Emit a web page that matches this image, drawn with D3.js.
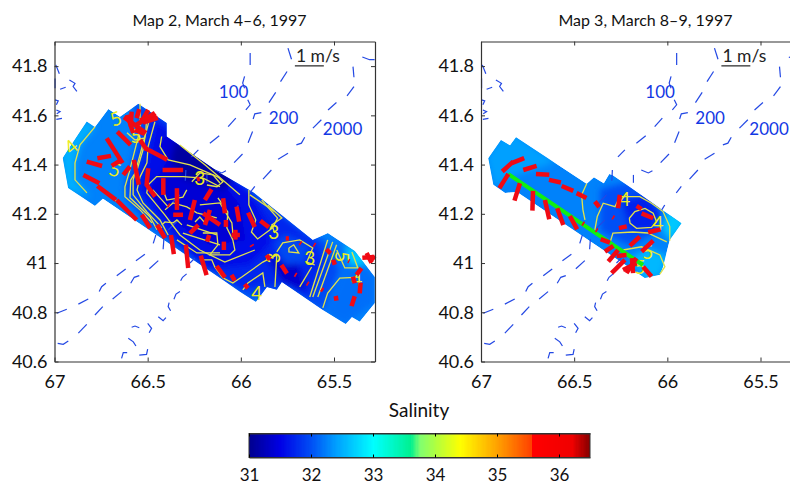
<!DOCTYPE html>
<html>
<head>
<meta charset="utf-8">
<script src="https://cdn.jsdelivr.net/npm/d3@7"></script>
<style>
    html, body { margin: 0; padding: 0; background: #fff; overflow: hidden; }
    svg text { font-family: Lato, "Open Sans", sans-serif; }
</style>
</head>
<body>
<div id="chart"></div>
<script>
const lonTicks = [67, 66.5, 66, 65.5];
const latTicks = [40.6, 40.8, 41, 41.2, 41.4, 41.6, 41.8];
const salinityTicks = [31, 32, 33, 34, 35, 36];
const salinityStops = [31, 31.5, 32, 32.4, 33, 33.6, 33.75, 34, 34.4, 35, 35.55, 35.56, 36.2, 36.5];
const salinityColors = ["#00008f", "#0000e6", "#0050f5", "#00a0ff", "#00ffff", "#00f090", "#80ff70", "#b0ff40",
    "#ffff00", "#ffa000", "#ff4000", "#ff0000", "#f00000", "#800000"];

// isobaths, same for both maps (dashes as seen on the picture)
const isobaths = [
    [[66.993, 41.805], [66.974, 41.769]],
    [[66.997, 41.75], [66.997, 41.71]],
    [[66.97, 41.706], [66.94, 41.714]],
    [[66.92, 41.744], [66.89, 41.73], [66.90, 41.717], [66.88, 41.697]],
    [[66.997, 41.663], [66.98, 41.659], [66.99, 41.643]],
    [[66.99, 41.622], [66.97, 41.615], [66.988, 41.606]],
    [[66.99, 41.584], [66.96, 41.588]],
    // 100
    [[65.95, 41.853], [65.95, 41.805]],
    [[65.98, 41.758], [65.99, 41.731], [65.98, 41.71]],
    [[65.963, 41.663], [65.95, 41.643], [65.973, 41.622]],
    [[66.027, 41.589], [66.068, 41.554]],
    [[66.116, 41.517], [66.166, 41.487]],
    [[66.228, 41.46], [66.265, 41.431]],
    [[66.295, 41.378], [66.298, 41.334]],
    // 200
    [[65.747, 41.873], [65.728, 41.828]],
    [[65.752, 41.778], [65.787, 41.737]],
    [[65.813, 41.693], [65.849, 41.652]],
    [[65.89, 41.611], [65.925, 41.606], [65.934, 41.585]],
    [[65.937, 41.534], [65.961, 41.489]],
    [[65.991, 41.443], [66.036, 41.408]],
    [[66.08, 41.375], [66.102, 41.366], [66.14, 41.378]],
    [[66.182, 41.358], [66.182, 41.326]],
    // 2000
    [[65.348, 41.837], [65.309, 41.826], [65.282, 41.826]],
    [[65.398, 41.798], [65.393, 41.755]],
    [[65.393, 41.717], [65.43, 41.679]],
    [[65.487, 41.652], [65.532, 41.622]],
    [[65.568, 41.582], [65.613, 41.548]],
    [[65.657, 41.511], [65.675, 41.487], [65.702, 41.48]],
    [[65.747, 41.446], [65.80, 41.422]],
    [[65.836, 41.378], [65.881, 41.341]],
    [[65.925, 41.311], [65.952, 41.285]],
    [[66.014, 41.236], [66.03, 41.216]],
    [[66.335, 41.175], [66.389, 41.135]],
    [[66.327, 41.277], [66.37, 41.244]],
    // lower left
    [[66.988, 40.796], [66.934, 40.812]],
    [[66.872, 40.833], [66.819, 40.854]],
    [[66.76, 40.884], [66.747, 40.904], [66.724, 40.918]],
    [[66.666, 40.948], [66.618, 40.976]],
    [[66.563, 41.009], [66.515, 41.036]],
    [[66.47, 41.08], [66.456, 41.114]],
    [[66.983, 40.674], [66.953, 40.67], [66.926, 40.683]],
    [[66.872, 40.715], [66.827, 40.751]],
    [[66.783, 40.789], [66.741, 40.823]],
    [[66.688, 40.854], [66.64, 40.884]],
    [[66.591, 40.918], [66.572, 40.942], [66.545, 40.949]],
    [[66.491, 40.977], [66.443, 41.01]],
    [[66.417, 41.056], [66.413, 41.097]],
    [[66.64, 40.613], [66.631, 40.636], [66.61, 40.636]],
    [[66.545, 40.626], [66.506, 40.629], [66.50, 40.65]],
    [[66.604, 40.694], [66.577, 40.68], [66.563, 40.663]],
    [[66.586, 40.739], [66.568, 40.744], [66.545, 40.737]],
    [[66.50, 40.755], [66.479, 40.735], [66.492, 40.717]],
    [[66.443, 40.782], [66.417, 40.766], [66.402, 40.778]],
    [[66.385, 40.839], [66.39, 40.823], [66.377, 40.806]],
    [[66.359, 40.853], [66.348, 40.874], [66.327, 40.884]],
    [[66.323, 40.928], [66.313, 40.942], [66.291, 40.956]],
    [[66.273, 41.0], [66.247, 41.02]]
];
const isobathLabels = [
    { text: "100", lon: 66.118, lat: 41.671 },
    { text: "200", lon: 65.85, lat: 41.565 },
    { text: "2000", lon: 65.56, lat: 41.52 }
];

// Map 2
const coverageMap2 = [[66.956, 41.427], [66.827, 41.575], [66.783, 41.553], [66.711, 41.626], [66.649, 41.594],
    [66.55, 41.647], [66.398, 41.569], [66.398, 41.514], [66.112, 41.366], [65.935, 41.289], [65.614, 41.094],
    [65.533, 41.122], [65.388, 41.049], [65.281, 40.943], [65.281, 40.838], [65.362, 40.761], [65.404, 40.781],
    [65.437, 40.752], [65.56, 40.809], [65.78, 40.923], [65.807, 40.891], [65.86, 40.903], [65.919, 40.842],
    [66.005, 40.883], [66.112, 40.939], [66.74, 41.261], [66.783, 41.232], [66.927, 41.305]];
const baseSalinityMap2 = 32.25;
const bandsMap2 = [
    { s: 32.5, pts: [[66.97, 41.46], [66.826, 41.582], [66.783, 41.553], [66.86, 41.48], [66.89, 41.407], [66.89, 41.338], [66.81, 41.27], [66.94, 41.297]] },
    { s: 31.95, pts: [[66.584, 41.663], [66.541, 41.541], [66.578, 41.431], [66.622, 41.31], [66.611, 41.256], [66.477, 41.143], [65.951, 40.85], [65.737, 40.891], [65.56, 40.801], [65.469, 40.972], [65.55, 41.094], [65.63, 41.114], [65.951, 41.297], [66.38, 41.582]] },
    { s: 31.75, pts: [[66.505, 41.622], [66.525, 41.46], [66.595, 41.317], [66.488, 41.188], [66.327, 41.053], [66.005, 40.891], [65.763, 40.911], [65.63, 40.85], [65.55, 41.013], [65.603, 41.094], [65.951, 41.289], [66.38, 41.561]] },
    { s: 31.55, pts: [[66.461, 41.574], [66.504, 41.407], [66.541, 41.297], [66.408, 41.155], [66.193, 40.972], [65.951, 40.992], [65.845, 41.074], [65.845, 41.155], [65.951, 41.297], [66.38, 41.541]] },
    { s: 31.4, pts: [[66.38, 41.541], [66.434, 41.473], [66.39, 41.419], [66.488, 41.297], [66.408, 41.196], [66.166, 41.074], [65.978, 41.094], [66.005, 41.236], [66.14, 41.358]] },
    { s: 31.1, pts: [[66.35, 41.50], [66.38, 41.419], [66.30, 41.338], [66.085, 41.297], [66.03, 41.358], [66.22, 41.44]] },
    { s: 31.35, pts: [[65.871, 41.033], [65.78, 40.923], [65.65, 40.882], [65.684, 40.992], [65.737, 41.004]] },
    { s: 31.95, pts: [[65.818, 41.074], [65.763, 41.114], [65.63, 41.074], [65.657, 41.004], [65.763, 40.992]] },
    { s: 32.15, pts: [[65.523, 41.094], [65.389, 41.053], [65.281, 40.943], [65.281, 40.838], [65.442, 40.748], [65.55, 40.801], [65.469, 40.952]] },
    { s: 32.7, pts: [[65.442, 41.074], [65.362, 41.045], [65.32, 40.992], [65.415, 40.992]] }
];
const contoursMap2 = [
    [[66.783, 41.553], [66.863, 41.48], [66.89, 41.407], [66.89, 41.338], [66.826, 41.285]],
    [[66.541, 41.647], [66.541, 41.541], [66.578, 41.431], [66.6, 41.366], [66.622, 41.31], [66.622, 41.269], [66.541, 41.216], [66.477, 41.163]],
    [[66.505, 41.622], [66.509, 41.541], [66.525, 41.46], [66.557, 41.378], [66.591, 41.338], [66.595, 41.265], [66.488, 41.188], [66.45, 41.135]],
    [[66.488, 41.59], [66.541, 41.44], [66.578, 41.338], [66.578, 41.277], [66.504, 41.208], [66.424, 41.143]],
    [[66.461, 41.574], [66.498, 41.472], [66.504, 41.407], [66.541, 41.35], [66.557, 41.297], [66.525, 41.244], [66.434, 41.175], [66.39, 41.114]],
    [[66.425, 41.514], [66.434, 41.473], [66.39, 41.419], [66.273, 41.399], [66.112, 41.346]],
    [[66.327, 41.48], [66.193, 41.399], [66.005, 41.277]],
    [[65.951, 41.277], [65.871, 41.236], [65.818, 41.208]],
    [[66.112, 41.31], [66.202, 41.345], [66.31, 41.351], [66.452, 41.351], [66.497, 41.318], [66.505, 41.285], [66.408, 41.196], [66.327, 41.114], [66.22, 41.053], [66.086, 41.004], [65.925, 41.053]],
    [[65.957, 41.297], [65.957, 41.236], [65.92, 41.175], [65.943, 41.126], [65.91, 41.098], [65.829, 41.143], [65.803, 41.183], [65.888, 41.256]],
    [[66.22, 41.013], [66.156, 41.013], [66.14, 40.984], [66.097, 40.94], [66.043, 40.919], [65.995, 40.943], [65.882, 41.004], [65.807, 41.033], [65.817, 40.903]],
    [[66.204, 41.122], [66.129, 41.122], [66.123, 41.074], [66.166, 41.033], [66.059, 41.033], [66.032, 41.053], [66.043, 41.094], [66.075, 41.143], [66.07, 41.208], [66.123, 41.265]],
    [[66.22, 41.236], [66.112, 41.244], [66.048, 41.163], [66.043, 41.122]],
    [[66.424, 41.155], [66.407, 41.167], [66.364, 41.163], [66.343, 41.175], [66.316, 41.155]],
    [[66.246, 41.167], [66.22, 41.187], [66.193, 41.163]],
    [[66.343, 41.094], [66.236, 41.041], [66.112, 41.041]],
    [[66.311, 41.122], [66.112, 41.074]],
    [[66.29, 41.155], [66.129, 41.114]],
    [[66.472, 41.297], [66.39, 41.228], [66.407, 41.216], [66.364, 41.244], [66.29, 41.228], [66.236, 41.204], [66.129, 41.183]],
    [[66.418, 41.297], [66.397, 41.256], [66.311, 41.268], [66.29, 41.297]],
    [[66.263, 41.33], [66.22, 41.366], [66.15, 41.358], [66.112, 41.325]],
    [[66.123, 41.35], [66.096, 41.33], [66.128, 41.31], [66.182, 41.317]],
    [[65.856, 41.236], [65.78, 41.183], [65.834, 41.155], [65.818, 41.122]],
    [[65.63, 40.862], [65.534, 41.094]],
    [[65.614, 40.862], [65.507, 41.086]],
    [[65.587, 40.862], [65.486, 41.074]],
    [[65.56, 40.818], [65.534, 40.878], [65.469, 40.939], [65.362, 40.943]],
    [[65.684, 40.903], [65.62, 40.984]],
    [[65.485, 41.053], [65.442, 40.98], [65.372, 40.98], [65.404, 41.045]],
    [[65.742, 41.061], [65.716, 41.074], [65.689, 41.041], [65.742, 41.045], [65.742, 41.061]],
    [[65.807, 41.045], [65.775, 41.082], [65.684, 41.094], [65.614, 41.061], [65.646, 41.004], [65.603, 40.992]],
    [[65.989, 40.891], [65.962, 40.919], [65.882, 40.96], [65.871, 40.903]],
    [[66.611, 41.529], [66.568, 41.50], [66.515, 41.508]],
    [[66.675, 41.256], [66.557, 41.178]]
];
const contourLabelsMap2 = [
    { text: "4", lon: 66.911, lat: 41.472, rot: -40 },
    { text: "5", lon: 66.67, lat: 41.586, rot: -20 },
    { text: "5", lon: 66.563, lat: 41.513, rot: 0 },
    { text: "5", lon: 66.675, lat: 41.378, rot: 20 },
    { text: "3", lon: 66.22, lat: 41.346, rot: 0 },
    { text: "3", lon: 65.823, lat: 41.021, rot: -90 },
    { text: "3", lon: 65.823, lat: 41.126, rot: 0 },
    { text: "3", lon: 65.63, lat: 41.021, rot: 0 },
    { text: "5", lon: 65.458, lat: 41.025, rot: 90 },
    { text: "4", lon: 65.378, lat: 40.935, rot: 0 },
    { text: "4", lon: 65.914, lat: 40.878, rot: 0 }
];
// lon, lat, u (m/s east), v (m/s north)
const currentsMap2 = [
    [66.627, 41.593, .76, -.55], [66.61, 41.602, .21, -.63], [66.586, 41.615, -.03, -.52], [66.545, 41.625, -.09, -.31],
    [66.497, 41.622, -.23, -.40], [66.452, 41.598, -.58, -.16], [66.445, 41.59, -.52, -.17], [66.461, 41.61, -.63, -.41],
    [66.663, 41.534, .46, -.46], [66.72, 41.507, .55, -.86], [66.77, 41.426, .47, .08], [66.827, 41.412, .53, -.15],
    [66.845, 41.358, .55, -.29], [66.77, 41.313, .64, -.48], [66.666, 41.256, .69, -.69], [66.693, 41.395, .34, .21],
    [66.631, 41.358, .23, .29], [66.574, 41.419, .17, -.86], [66.497, 41.385, -.06, -.61], [66.515, 41.467, .77, -.40],
    [66.42, 41.378, .71, 0], [66.568, 41.541, .34, -.14], [66.541, 41.50, .23, -.34], [66.416, 41.345, 0, -.58],
    [66.343, 41.304, 0, -.75], [66.505, 41.317, .29, -.40], [66.236, 41.34, .1, .02], [66.193, 41.256, .23, .37],
    [66.532, 41.196, .29, -.46], [66.449, 41.155, .27, -.46], [66.375, 41.114, .10, -.66], [66.295, 41.074, .08, -.80],
    [66.215, 41.03, .20, -.67], [66.13, 40.988, .29, -.39], [66.05, 40.952, .11, -.20], [65.979, 40.914, .11, -.14],
    [66.363, 41.196, .34, 0], [66.391, 41.236, .05, -.03], [66.247, 41.256, -.17, -.69], [66.273, 41.121, .29, .29],
    [66.202, 41.202, .58, -.40], [66.166, 41.216, -.17, -.52], [66.095, 41.263, .06, -.52], [66.08, 41.175, 0, -.24],
    [66.023, 41.229, .09, -.52], [65.961, 41.205, .23, -.50], [65.895, 41.172, .29, -.23], [66.029, 41.135, 0, -.34],
    [66.05, 41.114, .29, 0], [66.17, 41.114, -.07, -.23], [66.091, 41.087, 0, -.29], [65.943, 41.074, .03, -.05],
    [65.759, 41.10, .11, 0], [65.684, 41.082, .05, -.03], [65.609, 41.076, .05, -.03], [65.541, 41.056, .14, -.14],
    [65.505, 41.013, .06, -.17], [65.862, 41.033, .11, -.17], [65.782, 40.992, .19, -.29], [65.71, 40.954, .05, -.03],
    [65.645, 40.918, .05, -.03], [65.568, 40.894, .06, -.04], [65.491, 40.866, .03, -.16], [65.424, 41.009, .04, -.02],
    [65.406, 40.825, .11, .34], [65.362, 40.877, .03, .37], [65.398, 40.945, .06, -.23], [65.379, 40.952, .17, .23],
    [65.348, 41.021, .42, .03], [65.325, 41.041, .17, -.34], [65.282, 41.029, -.17, -.21]
];

// Map 3
const coverageMap3 = [[66.961, 41.426], [66.893, 41.50], [66.844, 41.477], [66.812, 41.511], [66.433, 41.322],
    [66.394, 41.349], [66.341, 41.324], [66.312, 41.362], [66.294, 41.358], [65.924, 41.162], [65.987, 41.094],
    [66.023, 40.985], [66.04, 40.952], [66.121, 40.939], [66.807, 41.289], [66.871, 41.285], [66.934, 41.318]];
const baseSalinityMap3 = 32.25;
const bandsMap3 = [
    { s: 32.4, pts: [[66.97, 41.43], [66.89, 41.51], [66.81, 41.52], [66.6, 41.41], [66.8, 41.36], [66.93, 41.31]] },
    { s: 32.0, pts: [[66.36, 41.30], [66.2, 41.33], [66.05, 41.24], [66.05, 41.13], [66.2, 41.07], [66.36, 41.13]] },
    { s: 31.7, pts: [[66.25, 41.25], [66.12, 41.28], [66.03, 41.2], [66.08, 41.13], [66.2, 41.13]] },
    { s: 32.65, pts: [[65.98, 41.24], [65.9, 41.16], [65.98, 41.09], [66.03, 41.14]] },
    { s: 32.55, pts: [[66.2, 41.02], [66.1, 41.06], [66.0, 41.03], [66.03, 40.95], [66.12, 40.93]] }
];
const contoursMap3 = [
    [[66.204, 41.182], [66.174, 41.209], [66.12, 41.222], [66.076, 41.202], [66.058, 41.168], [66.085, 41.145], [66.165, 41.141], [66.2, 41.162], [66.204, 41.182]],
    [[66.389, 41.135], [66.376, 41.189], [66.344, 41.243], [66.281, 41.229], [66.255, 41.27], [66.148, 41.27], [66.085, 41.243], [66.023, 41.209], [65.987, 41.148], [65.987, 41.091]],
    [[66.308, 41.082], [66.292, 41.122], [66.185, 41.126], [66.105, 41.122], [66.003, 41.086]],
    [[66.238, 41.053], [66.138, 41.066], [66.04, 41.033], [66.013, 40.985], [66.04, 40.955]],
    [[66.433, 41.322], [66.46, 41.277], [66.453, 41.216], [66.442, 41.175]]
];
const contourLabelsMap3 = [
    { text: "4", lon: 66.228, lat: 41.26, rot: 0 },
    { text: "4", lon: 66.05, lat: 41.163, rot: 0 },
    { text: "5", lon: 66.105, lat: 41.045, rot: 0 },
    { text: "5", lon: 66.147, lat: 40.984, rot: 0 }
];
const currentsMap3 = [
    [66.886, 41.372, .38, .34], [66.835, 41.406, .43, .17], [66.773, 41.378, .46, .14], [66.705, 41.362, .46, -.03],
    [66.635, 41.338, .41, -.09], [66.567, 41.313, .40, -.17], [66.487, 41.284, .34, -.17], [66.853, 41.362, -.31, -.49],
    [66.791, 41.324, -.19, -.60], [66.721, 41.293, -.02, -.68], [66.657, 41.256, .15, -.66], [66.591, 41.223, .21, -.58],
    [66.523, 41.191, .25, -.46], [66.455, 41.162, .05, -.03], [66.389, 41.25, .15, -.19], [66.383, 41.135, .05, -.03],
    [66.358, 41.097, .32, -.12], [66.294, 41.187, .05, -.03], [66.26, 41.142, .27, .06], [66.255, 41.277, -.06, -.46],
    [66.165, 41.232, .17, -.11], [66.138, 41.202, .40, -.17], [66.103, 41.125, .43, .10], [66.201, 41.07, .34, .32],
    [66.138, 41.046, .40, .38], [66.335, 41.046, .29, .20], [66.317, 41.006, .34, .40], [66.299, 40.959, .46, .46],
    [66.272, 41.029, .34, .03], [66.219, 40.959, .34, .52], [66.19, 41.02, .04, -.52], [66.13, 40.985, .29, -.34],
    [66.238, 40.972, .47, .23]
];
const trackMap3 = [[66.855, 41.362], [66.131, 40.992]];

const color = d3.scaleLinear().domain(salinityStops).range(salinityColors);

const svg = d3.select("#chart").append("svg")
    .attr("width", 790)
    .attr("height", 485);

const defs = svg.append("defs");
defs.append("filter").attr("id", "fieldBlur")
    .attr("x", "-20%").attr("y", "-20%").attr("width", "140%").attr("height", "140%")
    .append("feGaussianBlur").attr("stdDeviation", 3);
defs.append("filter").attr("id", "softBlur")
    .append("feGaussianBlur").attr("stdDeviation", 0.25);

class MapPanel {
    constructor(config) {
        this.config = config;
        this.width = 320.5;
        this.height = 320;
        this.xScale = d3.scaleLinear().domain([67, 65.28]).range([0, this.width]);
        this.yScale = d3.scaleLinear().domain([40.6, 41.9]).range([this.height, 0]);
        this.line = d3.line().x(d => this.xScale(d[0])).y(d => this.yScale(d[1]));
        this.g = svg.append("g")
            .attr("transform", `translate(${config.left},${config.top})`);
    }

    renderField() {
        const c = this.config;
        defs.append("clipPath").attr("id", c.id)
            .append("path").attr("d", this.line(c.coverage) + "Z");
        const field = this.g.append("g").attr("clip-path", `url(#${c.id})`);
        field.append("path")
            .attr("d", this.line(c.coverage) + "Z")
            .attr("fill", color(c.baseSalinity));
        field.append("g")
            .attr("filter", "url(#fieldBlur)")
            .selectAll("path")
            .data(c.bands)
            .join("path")
            .attr("d", d => this.line(d.pts) + "Z")
            .attr("fill", d => color(d.s));
    }

    renderIsobaths() {
        this.g.append("g").attr("filter", "url(#softBlur)")
            .selectAll("path")
            .data(isobaths)
            .join("path")
            .attr("d", this.line)
            .attr("fill", "none")
            .attr("stroke", "#2448e4")
            .attr("stroke-width", 1.2);
        this.g.selectAll("text.isobath")
            .data(isobathLabels)
            .join("text")
            .attr("class", "isobath")
            .attr("x", d => this.xScale(d.lon))
            .attr("y", d => this.yScale(d.lat))
            .attr("fill", "#1238e4")
            .attr("font-size", 17)
            .text(d => d.text);
    }

    renderContours() {
        const c = this.config;
        this.g.append("g").attr("filter", "url(#softBlur)")
            .selectAll("path")
            .data(c.contours)
            .join("path")
            .attr("d", this.line)
            .attr("fill", "none")
            .attr("stroke", "#e2e24a")
            .attr("stroke-width", 1.3);
        this.g.selectAll("text.contour")
            .data(c.contourLabels)
            .join("text")
            .attr("class", "contour")
            .attr("text-anchor", "middle")
            .attr("dy", "0.35em")
            .attr("transform", d => `translate(${this.xScale(d.lon)},${this.yScale(d.lat)}) rotate(${d.rot})`)
            .attr("fill", "#ecec20")
            .attr("font-size", 19)
            .text(d => d.text);
    }

    renderCurrents() {
        const c = this.config;
        const k = this.xScale(65.8) - this.xScale(65.9554); // 1 m/s bar, 29 px on the picture
        if (c.track) {
            this.g.append("path")
                .attr("d", this.line(c.track))
                .attr("stroke", "#10f010")
                .attr("stroke-width", 4)
                .attr("fill", "none");
        }
        this.g.append("g").selectAll("line")
            .data(c.currents)
            .join("line")
            .attr("x1", d => this.xScale(d[0]))
            .attr("y1", d => this.yScale(d[1]))
            .attr("x2", d => this.xScale(d[0]) + d[2] * k)
            .attr("y2", d => this.yScale(d[1]) - d[3] * k)
            .attr("stroke", "#f00a14")
            .attr("stroke-width", 4.5);

        // scale bar
        const bx = this.xScale(65.71);
        const by = this.yScale(41.801);
        this.g.append("line")
            .attr("x1", bx).attr("x2", bx + k)
            .attr("y1", by).attr("y2", by)
            .attr("stroke", "#222")
            .attr("stroke-width", 1.2);
        this.g.append("text")
            .attr("x", bx + 1)
            .attr("y", by - 4)
            .attr("fill", "#222")
            .attr("font-size", 17.5)
            .text("1 m/s");
    }

    renderAxes() {
        const c = this.config;
        const xAxis = d3.axisBottom(this.xScale).tickValues(lonTicks).tickFormat(d3.format("")).tickSizeInner(-4).tickSizeOuter(0).tickPadding(14);
        const yAxis = d3.axisLeft(this.yScale).tickValues(latTicks).tickFormat(d => d).tickSizeInner(-4).tickSizeOuter(0).tickPadding(7);
        const xTop = d3.axisTop(this.xScale).tickValues(lonTicks).tickFormat("").tickSizeInner(-4).tickSizeOuter(0);
        const yRight = d3.axisRight(this.yScale).tickValues(latTicks).tickFormat("").tickSizeInner(-4).tickSizeOuter(0);

        this.g.append("g").attr("transform", `translate(0,${this.height})`).call(xAxis);
        this.g.append("g").call(yAxis);
        this.g.append("g").call(xTop);
        this.g.append("g").attr("transform", `translate(${this.width},0)`).call(yRight);
        this.g.selectAll(".domain").attr("stroke", "#333").attr("stroke-width", 1.2);
        this.g.selectAll(".tick line").attr("stroke", "#333");
        this.g.selectAll(".tick text")
            .attr("font-size", 18)
            .attr("font-family", 'Lato, "Open Sans", sans-serif')
            .attr("fill", "#111");

        svg.append("text")
            .attr("x", c.titleX)
            .attr("y", 26)
            .attr("text-anchor", "middle")
            .attr("font-size", 16)
            .attr("fill", "#111")
            .text(c.title);
    }

    render() {
        this.renderField();
        this.renderIsobaths();
        this.renderContours();
        this.renderCurrents();
        this.renderAxes();
    }
}

new MapPanel({
    id: "coverage2", left: 54.5, top: 41.5, title: "Map 2, March 4\u20136, 1997", titleX: 219.5,
    coverage: coverageMap2, baseSalinity: baseSalinityMap2, bands: bandsMap2,
    contours: contoursMap2, contourLabels: contourLabelsMap2, currents: currentsMap2
}).render();

new MapPanel({
    id: "coverage3", left: 481, top: 41.5, title: "Map 3, March 8\u20139, 1997", titleX: 645.5,
    coverage: coverageMap3, baseSalinity: baseSalinityMap3, bands: bandsMap3,
    contours: contoursMap3, contourLabels: contourLabelsMap3, currents: currentsMap3, track: trackMap3
}).render();

// colorbar
const barScale = d3.scaleLinear().domain([31, 36.5]).range([249, 590]);
const barTop = 433.5;
const barHeight = 24;
const barCells = d3.range(31, 36.5, 0.02);
svg.append("g").attr("shape-rendering", "crispEdges").selectAll("rect")
    .data(barCells)
    .join("rect")
    .attr("x", d => barScale(d))
    .attr("y", barTop)
    .attr("width", 2)
    .attr("height", barHeight)
    .attr("fill", d => color(d));
svg.append("rect").attr("x", 590).attr("y", barTop - 1).attr("width", 4).attr("height", barHeight + 2).attr("fill", "#fff");
svg.append("rect")
    .attr("x", barScale(31))
    .attr("y", barTop)
    .attr("width", barScale(36.5) - barScale(31))
    .attr("height", barHeight)
    .attr("fill", "none")
    .attr("stroke", "#333")
    .attr("stroke-width", 1);
const barAxis = svg.append("g")
    .attr("transform", `translate(0,${barTop + barHeight})`)
    .call(d3.axisBottom(barScale).tickValues(salinityTicks).tickFormat(d => d).tickSizeInner(-3).tickSizeOuter(0).tickPadding(11));
const barAxisTop = svg.append("g")
    .attr("transform", `translate(0,${barTop})`)
    .call(d3.axisTop(barScale).tickValues(salinityTicks).tickFormat("").tickSizeInner(-3).tickSizeOuter(0));
barAxis.select(".domain").attr("stroke", "#333");
barAxisTop.select(".domain").attr("stroke", "#333");
barAxis.selectAll("text")
    .attr("font-size", 17)
    .attr("font-family", 'Lato, "Open Sans", sans-serif')
    .attr("fill", "#111");
svg.append("text")
    .attr("x", 419)
    .attr("y", 417)
    .attr("text-anchor", "middle")
    .attr("font-size", 19)
    .attr("fill", "#111")
    .text("Salinity");
</script>
</body>
</html>
